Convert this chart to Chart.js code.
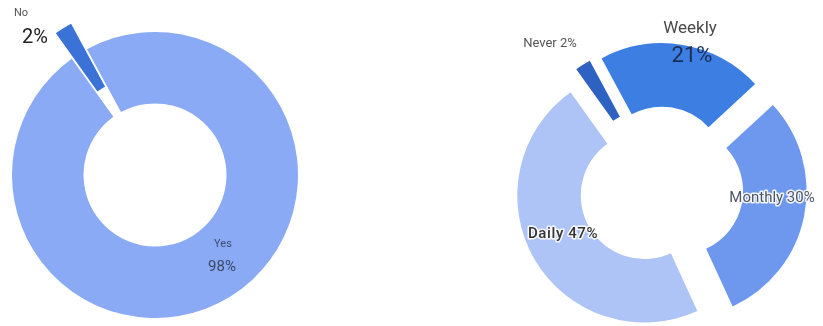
<!DOCTYPE html>
<html lang="en">
<head>
<meta charset="UTF-8">
<title>Survey Results</title>
<script src="https://cdn.jsdelivr.net/npm/chart.js"></script>
<style>
  html, body { margin: 0; padding: 0; background: #fff; }
  .wrap { position: relative; width: 823px; height: 326px; overflow: hidden; }
  .box { position: absolute; top: 0; width: 411px; height: 326px; }
  #left { left: 0; }
  #right { left: 412px; }
</style>
</head>
<body>
<div class="wrap">
  <div class="box" id="left"><canvas id="usageChart"></canvas></div>
  <div class="box" id="right"><canvas id="freqChart"></canvas></div>
</div>

<script>
const usageLabels = ['Yes', 'No'];
const usageValues = [98, 2];

const freqLabels = ['Weekly', 'Monthly', 'Daily', 'Never'];
const freqValues = [21, 30, 47, 2];

// pull slices out along their middle angle (straight move, radius unchanged)
const explodePlugin = {
  id: 'explode',
  beforeDatasetDraw(chart, args) {
    const shift = chart.data.datasets[args.index].shift || [];
    const ctx = chart.ctx;
    args.meta.data.forEach((arc, i) => {
      const d = shift[i] || 0;
      const mid = (arc.startAngle + arc.endAngle) / 2;
      ctx.save();
      ctx.translate(Math.cos(mid) * d, Math.sin(mid) * d);
      arc.draw(ctx);
      ctx.restore();
    });
    return false;
  }
};

// slice captions, placed relative to the ring centre
const captionPlugin = {
  id: 'captions',
  afterDatasetsDraw(chart, args, opts) {
    const arc = chart.getDatasetMeta(0).data[0];
    if (!arc) return;
    const ctx = chart.ctx;
    ctx.save();
    ctx.textAlign = 'center';
    ctx.textBaseline = 'middle';
    (opts.items || []).forEach(it => {
      const x = arc.x + it.dx, y = arc.y + it.dy;
      ctx.font = it.font;
      ctx.letterSpacing = it.spacing || '0px';
      if (it.halo) {
        ctx.lineWidth = 3;
        ctx.lineJoin = 'round';
        ctx.strokeStyle = 'rgba(255,255,255,0.9)';
        ctx.strokeText(it.text, x, y);
      }
      ctx.fillStyle = it.color;
      ctx.fillText(it.text, x, y);
    });
    ctx.restore();
  }
};

const pct = v => v + '%';

new Chart(document.getElementById('usageChart'), {
  type: 'doughnut',
  data: {
    labels: usageLabels,
    datasets: [{
      data: usageValues,
      backgroundColor: ['#8aaaf5', '#3a72d8'],
      borderWidth: 0,
      shift: [0, 30]
    }]
  },
  options: {
    responsive: true,
    maintainAspectRatio: false,
    animation: false,
    radius: 143,
    cutout: '50%',
    rotation: -28.4,
    layout: { padding: { left: 0, right: 101, top: 24, bottom: 0 } },
    events: [],
    plugins: {
      legend: { display: false },
      tooltip: { enabled: false },
      captions: {
        items: [
          { text: usageLabels[1], dx: -134, dy: -162, font: '11px Roboto', color: '#555' },
          { text: pct(usageValues[1]), dx: -120, dy: -137, font: '20px Roboto', color: '#222' },
          { text: usageLabels[0], dx: 68, dy: 69, font: '11px Roboto', color: '#3e4c6e' },
          { text: pct(usageValues[0]), dx: 67, dy: 92, font: '15px Roboto', color: '#3a4766' }
        ]
      }
    }
  },
  plugins: [explodePlugin, captionPlugin]
});

new Chart(document.getElementById('freqChart'), {
  type: 'doughnut',
  data: {
    labels: freqLabels,
    datasets: [{
      data: freqValues,
      backgroundColor: ['#3d7ee2', '#6e97ee', '#aec4f6', '#2e62c2'],
      borderWidth: 0,
      shift: [17, 21, 17, 17]
    }]
  },
  options: {
    responsive: true,
    maintainAspectRatio: false,
    animation: false,
    radius: 127,
    cutout: '50%',
    rotation: -28.3,
    layout: { padding: { left: 83, right: 0, top: 48, bottom: 0 } },
    events: [],
    plugins: {
      legend: { display: false },
      tooltip: { enabled: false },
      captions: {
        items: [
          { text: freqLabels[0], dx: 31, dy: -158, font: '17px Roboto', color: '#4a4a4a' },
          { text: pct(freqValues[0]), dx: 33, dy: -131, font: '22px Roboto', color: '#1b2d55' },
          { text: freqLabels[3] + ' ' + pct(freqValues[3]), dx: -109, dy: -143, font: '13px Roboto', color: '#555' },
          { text: freqLabels[1] + ' ' + pct(freqValues[1]), dx: 113, dy: 11, font: '15px Roboto', color: '#4e5566', halo: true },
          { text: freqLabels[2] + ' ' + pct(freqValues[2]), dx: -96, dy: 47, font: '500 15px Roboto', color: '#333', halo: true, spacing: '0.6px' }
        ]
      }
    }
  },
  plugins: [explodePlugin, captionPlugin]
});
</script>
</body>
</html>
